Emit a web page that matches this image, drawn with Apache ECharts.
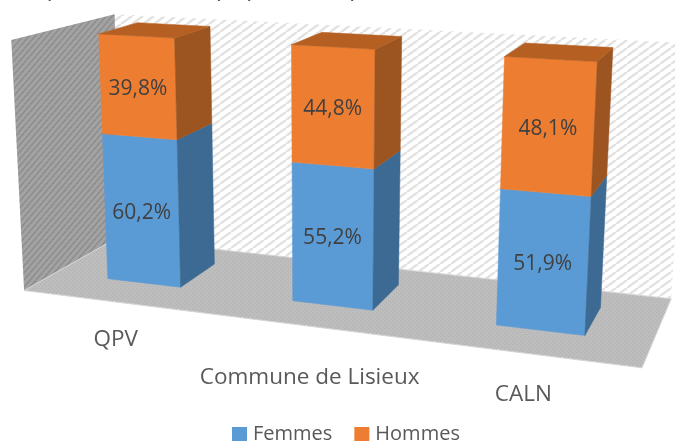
<!DOCTYPE html><html><head><meta charset="utf-8"><style>html,body{margin:0;background:#fff}#c{width:675px;height:441px}</style>
<script src="https://cdn.jsdelivr.net/npm/echarts@6/dist/echarts.min.js"></script></head><body><div id="c"></div>
<script>
const categories=['QPV','Commune de Lisieux','CALN'];
const femmes=[60.2,55.2,51.9];
const hommes=[39.8,44.8,48.1];
const titleText='Répartition de la population par sexe';

// Camera of the 3D plot: model (x,y,z) in the unit cube -> screen
const CAM=[[527.383,-13.3041,105.95,24.1134],[25.4884,-252.189,-23.3408,290.494],[-0.140952,-0.0412053,0.120475,1]];
const project=(x,y,z)=>{const w=CAM[2][0]*x+CAM[2][1]*y+CAM[2][2]*z+CAM[2][3];
  return [(CAM[0][0]*x+CAM[0][1]*y+CAM[0][2]*z+CAM[0][3])/w,(CAM[1][0]*x+CAM[1][1]*y+CAM[1][2]*z+CAM[1][3])/w];};
const BAR_BAND=0.405, Z_FRONT=0.3214, Z_BACK=0.7457, CORNER_X=0.013;
const labelDrop=[38,51,41], labelShift=[1,0,-2], VALUE_DY=2;
const TEXT='#404040', AXIS_TEXT='#595959', FONT='"Open Sans"';

function hatch(w,h,bg,fg,lw){const c=document.createElement('canvas');c.width=w;c.height=h;const g=c.getContext('2d');
  g.fillStyle=bg;g.fillRect(0,0,w,h);g.strokeStyle=fg;g.lineWidth=lw;
  for(let i=-1;i<=1;i++){g.beginPath();g.moveTo(i*w,h);g.lineTo(i*w+w,0);g.stroke();}
  return {image:c,repeat:'repeat'};}
function dots(){const c=document.createElement('canvas');c.width=4;c.height=4;const g=c.getContext('2d');
  g.fillStyle='#bdbdbd';g.fillRect(0,0,4,4);g.fillStyle='#afafaf';g.fillRect(0,0,1,1);g.fillRect(2,2,1,1);
  return {image:c,repeat:'repeat'};}
const backFill=hatch(11,8,'#ffffff','#e2e2e2',2.4), leftFill=hatch(6,7,'#a3a3a3','#8e8e8e',1.6), floorFill=dots();

const poly=(pts,fill,extra)=>({type:'polygon',shape:{points:pts},style:Object.assign({fill:fill,stroke:fill,lineWidth:.5},extra||{})});

function walls(){
  return {type:'group',children:[
    poly([project(CORNER_X,1,1),project(1,1,1),project(1,0,1),project(0,0,1)],backFill,{stroke:null,lineWidth:0}),
    poly([project(0,1,0),project(CORNER_X,1,1),project(0,0,1),project(0,0,0)],leftFill,{stroke:null,lineWidth:0}),
    poly([project(0,0,0),project(0,0,1),project(1,0,1),project(1,0,0)],floorFill,{stroke:'#d6d6d6',lineWidth:1})
  ]};
}
function barItem(front,side,top){
  return function(params,api){
    const cs=params.coordSys, cat=api.value(0);
    const nx=p=>(p[0]-cs.x)/cs.width, ny=p=>1-(p[1]-cs.y)/cs.height;
    const a=api.coord([cat,api.value(1)]), b=api.coord([cat,api.value(2)]);
    const half=api.size([1,0])[0]*BAR_BAND/2/cs.width;
    const xc=nx(a), y0=ny(a), y1=ny(b), x0=xc-half, x1=xc+half;
    const children=[
      poly([project(x0,y1,Z_FRONT),project(x1,y1,Z_FRONT),project(x1,y0,Z_FRONT),project(x0,y0,Z_FRONT)],front),
      poly([project(x1,y1,Z_FRONT),project(x1,y1,Z_BACK),project(x1,y0,Z_BACK),project(x1,y0,Z_FRONT)],side)
    ];
    if(top) children.push(poly([project(x0,y1,Z_FRONT),project(x0,y1,Z_BACK),project(x1,y1,Z_BACK),project(x1,y1,Z_FRONT)],top));
    const c=project(xc,(y0+y1)/2,Z_FRONT);
    children.push({type:'text',style:{text:(api.value(2)-api.value(1)).toFixed(1).replace('.',',')+'%',x:c[0],y:c[1]+VALUE_DY,align:'center',verticalAlign:'middle',fill:TEXT,font:'21px '+FONT}});
    return {type:'group',children};
  };
}
function axisText(params,api){
  const cs=params.coordSys,i=api.value(0),p=api.coord([i,0]);
  const s=project((p[0]-cs.x)/cs.width,0,0);
  return {type:'text',style:{text:categories[i],x:s[0]+labelShift[i],y:s[1]+labelDrop[i],align:'center',verticalAlign:'middle',fill:AXIS_TEXT,font:'22.5px '+FONT}};
}
const idx=categories.map((_,i)=>i);
const chart=echarts.init(document.getElementById('c'),null,{renderer:'canvas'});
chart.setOption({
  animation:false,backgroundColor:'#fff',
  title:{text:titleText,left:17,top:-25,padding:0,textStyle:{color:AXIS_TEXT,fontFamily:FONT,fontWeight:'normal',fontSize:25}},
  legend:{data:['Femmes','Hommes'],left:232,top:424,padding:0,itemWidth:15,itemHeight:14,itemGap:22,icon:'rect',
    textStyle:{color:AXIS_TEXT,fontFamily:FONT,fontSize:20,padding:[0,0,4,1]},selectedMode:false},
  grid:{left:0,top:0,width:600,height:400},
  xAxis:{type:'category',data:categories,show:false},
  yAxis:{type:'value',min:0,max:100,show:false},
  series:[
    {type:'custom',name:'walls',silent:true,clip:false,data:[[0,0]],renderItem:walls},
    {type:'custom',name:'Femmes',clip:false,itemStyle:{color:'#5B9BD5'},renderItem:barItem('#5B9BD5','#3C6A92',null),
      data:idx.map(i=>[i,0,femmes[i]]),encode:{x:0,y:2}},
    {type:'custom',name:'Hommes',clip:false,itemStyle:{color:'#ED7D31'},renderItem:barItem('#ED7D31','#9C5420','#B56022'),
      data:idx.map(i=>[i,femmes[i],femmes[i]+hommes[i]]),encode:{x:0,y:2}},
    {type:'custom',name:'labels',silent:true,clip:false,renderItem:axisText,data:idx.map(i=>[i,0])}
  ]
});
</script></body></html>
